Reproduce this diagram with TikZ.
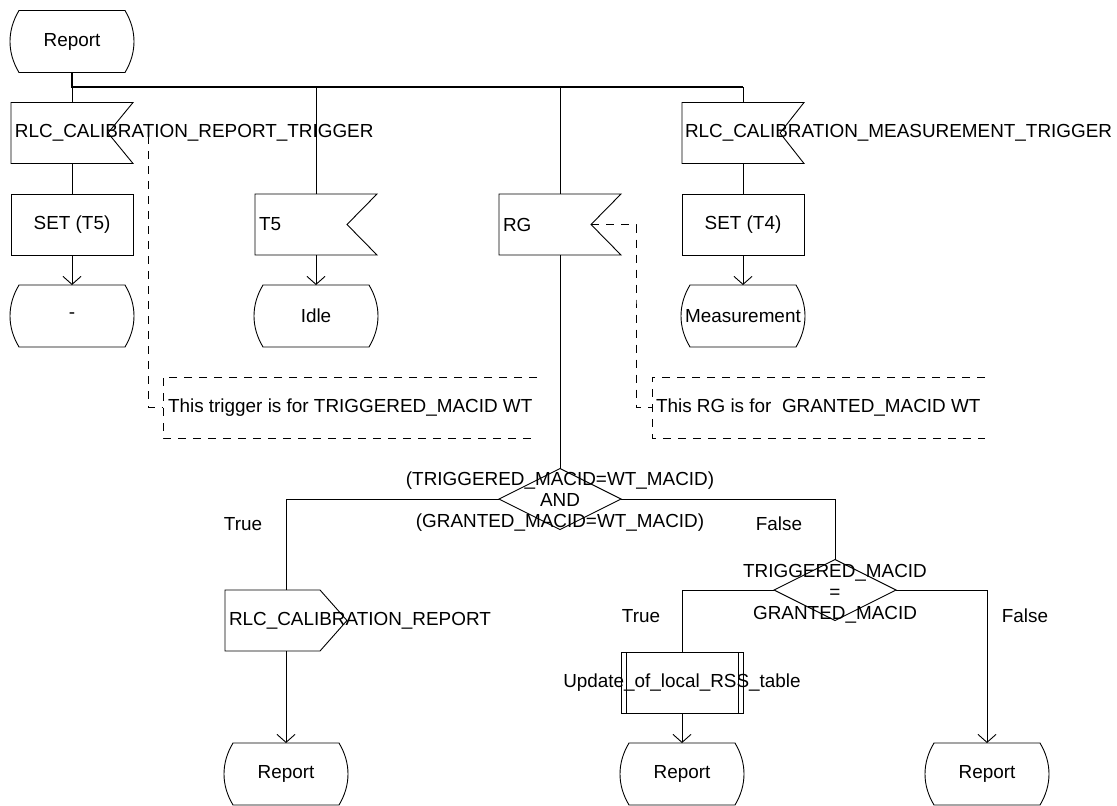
\documentclass[tikz,border=0pt]{standalone}
\usepackage{fontspec}
\setmainfont{Liberation Sans}
\usetikzlibrary{arrows.meta}
\newcommand\drawstate[1]{%
  \draw ([xshift=9pt]#1.north west) -- ([xshift=-9pt]#1.north east)
    .. controls ([xshift=3pt,yshift=-20pt]#1.north east) and ([xshift=3pt,yshift=20pt]#1.south east) .. ([xshift=-9pt]#1.south east)
    -- ([xshift=9pt]#1.south west)
    .. controls ([xshift=-3pt,yshift=20pt]#1.south west) and ([xshift=-3pt,yshift=-20pt]#1.north west) .. ([xshift=9pt]#1.north west) -- cycle;}
\newcommand\drawinput[2]{%
  \draw (#1.north west) -- (#1.north east) -- ([xshift=-#2]#1.east) -- (#1.south east) -- (#1.south west) -- cycle;}
\newcommand\drawoutput[1]{%
  \draw (#1.north west) -- ([xshift=-27pt]#1.north east) -- (#1.east) -- ([xshift=-27pt]#1.south east) -- (#1.south west) -- cycle;}
\newcommand\drawdecision[1]{%
  \draw (#1.north) -- (#1.east) -- (#1.south) -- (#1.west) -- cycle;}
\newcommand\drawproc[1]{%
  \draw (#1.north west) rectangle (#1.south east);
  \draw ([xshift=5pt]#1.north west) -- ([xshift=5pt]#1.south west);
  \draw ([xshift=-5pt]#1.north east) -- ([xshift=-5pt]#1.south east);}
\newcommand\drawcomment[1]{%
  \draw[cmt] (#1.north east) -- (#1.north west) -- (#1.south west) -- (#1.south east);}
\begin{document}
\begin{tikzpicture}[x=1pt,y=-1pt,
  font=\fontsize{18.9}{21}\selectfont,
  line width=0.9pt,
  box/.style={minimum width=122pt,minimum height=61pt,inner sep=0pt,outer sep=0pt},
  statebox/.style={box,minimum width=124pt,minimum height=62pt},
  taskbox/.style={box,draw},
  txt/.style={inner sep=0pt,outer sep=0pt},
  lbl/.style={inner sep=0pt,outer sep=0pt,align=center},
  arr/.style={-{Straight Barb[length=8pt,width=18pt]}},
  bus/.style={line width=2pt},
  cmt/.style={dash pattern=on 8pt off 7pt}]
\useasboundingbox (0,0) rectangle (1117,806);
\fill[white] (0,0) rectangle (1117,806);

% start state
\node[statebox] (s0) at (72,41.5) {Report};
\drawstate{s0}
\coordinate (j0) at (72,87);
\coordinate (j4) at (743,87);

% branch 1
\node[box] (in1) at (72,133) {};
\drawinput{in1}{25pt}
\node[txt,anchor=west] (in1t) at ([xshift=4pt]in1.west) {RLC\_CALIBRATION\_REPORT\_TRIGGER};
\node[taskbox] (task1) at (72,224.5) {SET (T5)};
\node[statebox] (st1) at (72,316) {-};
\drawstate{st1}

% branch 2
\node[box] (in2) at (316,224.5) {};
\drawinput{in2}{30pt}
\node[txt,anchor=west] (in2t) at ([xshift=4pt]in2.west) {T5};
\node[statebox] (st2) at (316,316) {Idle};
\drawstate{st2}

% branch 3
\node[box] (in3) at (560,224.5) {};
\drawinput{in3}{30pt}
\node[txt,anchor=west] (in3t) at ([xshift=4pt]in3.west) {RG};

% branch 4
\node[box] (in4) at (743,133) {};
\drawinput{in4}{24pt}
\node[txt,anchor=west] (in4t) at ([xshift=3pt]in4.west) {RLC\_CALIBRATION\_MEASUREMENT\_TRIGGER};
\node[taskbox] (task4) at (743,224.5) {SET (T4)};
\node[statebox] (st4) at (743,316) {Measurement};
\drawstate{st4}

% comments
\node[box,minimum width=374pt] (com1) at (350,407.5) {};
\drawcomment{com1}
\node[txt,anchor=west] (com1t) at ([xshift=5pt]com1.west) {This trigger is for TRIGGERED\_MACID WT};
\node[box,minimum width=333pt] (com2) at (818.5,407.5) {};
\drawcomment{com2}
\node[txt,anchor=west] (com2t) at ([xshift=4pt]com2.west) {This RG is for\ \ GRANTED\_MACID WT};
\coordinate (c1) at (148,136);
\coordinate (k2) at (636,300);

% decision 1
\node[box] (d1) at (560,499) {};
\drawdecision{d1}
\node[lbl] (d1t) at (560,502) {(TRIGGERED\_MACID=WT\_MACID)\\AND\\(GRANTED\_MACID=WT\_MACID)};
\node[lbl] (t1) at (243,524) {True};
\node[lbl] (f1) at (779,524) {False};

% true branch of decision 1
\node[box] (out1) at (286,620.5) {};
\drawoutput{out1}
\node[txt,anchor=west] (out1t) at ([xshift=4pt]out1.west) {RLC\_CALIBRATION\_REPORT};
\node[statebox] (st5) at (286,774) {Report};
\drawstate{st5}

% decision 2
\node[box] (d2) at (835,590) {};
\drawdecision{d2}
\node[lbl] (d2t) at (835,594) {TRIGGERED\_MACID\\=\\GRANTED\_MACID};
\node[lbl] (t2) at (641,616) {True};
\node[lbl] (f2) at (1025,616) {False};

\node[box] (proc) at (682,682.5) {};
\drawproc{proc}
\node[lbl] (proct) at (682,682.5) {Update\_of\_local\_RSS\_table};
\node[statebox] (st6) at (682,774) {Report};
\drawstate{st6}
\node[statebox] (st7) at (987,774) {Report};
\drawstate{st7}

% connectors
\draw[bus] (s0.south) -- (j0) -- (j4);
\draw (j0) -- (in1.north);
\draw (in2.north |- j0) -- (in2.north);
\draw (in3.north |- j0) -- (in3.north);
\draw (j4) -- (in4.north);
\draw (in1.south) -- (task1.north);
\draw[arr] (task1.south) -- (st1.north);
\draw[arr] (in2.south) -- (st2.north);
\draw (in4.south) -- (task4.north);
\draw[arr] (task4.south) -- (st4.north);
\draw (in3.south) -- (d1.north);
\draw (d1.west) -| (out1.north);
\draw[arr] (out1.south) -- (st5.north);
\draw (d1.east) -| (d2.north);
\draw (d2.west) -| (proc.north);
\draw[arr] (proc.south) -- (st6.north);
\draw[arr] (d2.east) -| (st7.north);
\draw[cmt] (c1) |- (com1.west);
\draw[cmt] ([xshift=-30pt]in3.east) -| (k2) |- (com2.west);
\end{tikzpicture}
\end{document}
